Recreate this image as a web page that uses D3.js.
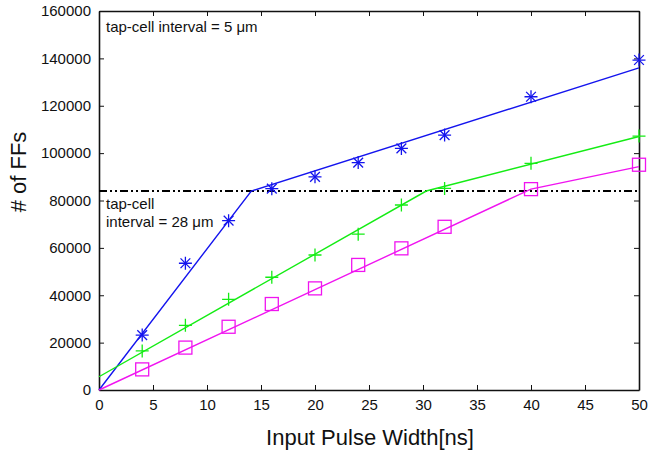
<!DOCTYPE html>
<html>
<head>
<meta charset="utf-8">
<script src="https://cdn.jsdelivr.net/npm/d3@7"></script>
<style>
  body { margin: 0; background: #fff; }
  svg text { font-family: "Liberation Sans", Arial, sans-serif; fill: #111; }
</style>
</head>
<body>
<svg id="chart" width="650" height="454"></svg>
<script>
// measured points (input pulse width vs # of FFs)
const pulseWidths = [4, 8, 12, 16, 20, 24, 28, 32, 40, 50];
const ffs5um  = [23200, 53500, 71500, 85000, 90000, 96000, 102000, 107600, 123800, 139300];
const ffsMid  = [16500, 27300, 38300, 47600, 57000, 65800, 78100, 85100, 95700, 107200];
const ffs28um = [8700, 17900, 26700, 36300, 42900, 52800, 59800, 68900, 84800, 95100];

// fitted lines (breakpoints)
const fit5umX  = [0, 14.1, 50];
const fit5umY  = [0, 84000, 136000];
const fitMidX  = [0, 30.3, 50];
const fitMidY  = [5600, 84000, 107000];
const fit28umX = [0, 40, 50];
const fit28umY = [0, 84800, 94300];

const limitFF = 84000;
const xTicks = [0, 5, 10, 15, 20, 25, 30, 35, 40, 45, 50];
const yTicks = [0, 20000, 40000, 60000, 80000, 100000, 120000, 140000, 160000];

const margin = { top: 11, right: 11, bottom: 64, left: 99 };
const width = 650 - margin.left - margin.right;
const height = 454 - margin.top - margin.bottom;

const svg = d3.select('#chart');
const g = svg.append('g').attr('transform', `translate(${margin.left},${margin.top})`);

const x = d3.scaleLinear().domain([0, 50]).range([0, width]);
const y = d3.scaleLinear().domain([0, 160000]).range([height, 0]);

// axes with inward ticks, mirrored on top/right
g.append('g')
  .attr('transform', `translate(0,${height})`)
  .call(d3.axisBottom(x).tickValues(xTicks).tickSizeInner(-5).tickSizeOuter(0).tickPadding(9));
g.append('g')
  .call(d3.axisLeft(y).tickValues(yTicks).tickFormat(d3.format('d')).tickSizeInner(-5).tickSizeOuter(0).tickPadding(8));
g.append('g')
  .call(d3.axisTop(x).tickValues(xTicks).tickSizeInner(-5).tickSizeOuter(0).tickFormat(''));
g.append('g')
  .attr('transform', `translate(${width},0)`)
  .call(d3.axisRight(y).tickValues(yTicks).tickSizeInner(-5).tickSizeOuter(0).tickFormat(''));

g.selectAll('.domain').attr('stroke', '#111').attr('stroke-width', 1.6);
g.selectAll('.tick line').attr('stroke', '#111').attr('stroke-width', 1);
g.selectAll('.tick text').style('font-size', '15px').attr('fill', '#111');

// limit line
g.append('line')
  .attr('x1', x(0)).attr('x2', x(50))
  .attr('y1', y(limitFF)).attr('y2', y(limitFF))
  .attr('stroke', '#000')
  .attr('stroke-width', 2)
  .attr('stroke-dasharray', '8,3,2,3,2,3');

const line = d3.line().x(d => x(d[0])).y(d => y(d[1]));

const series = [
  { fx: fit5umX, fy: fit5umY, pts: ffs5um, color: '#1414ee', marker: 'star' },
  { fx: fitMidX, fy: fitMidY, pts: ffsMid, color: '#14ec14', marker: 'plus' },
  { fx: fit28umX, fy: fit28umY, pts: ffs28um, color: '#f014f0', marker: 'square' }
];

series.forEach(s => {
  g.append('path')
    .datum(s.fx.map((v, i) => [v, s.fy[i]]))
    .attr('fill', 'none')
    .attr('stroke', s.color)
    .attr('stroke-width', 1.4)
    .attr('d', line);

  const m = g.append('g').selectAll('g')
    .data(pulseWidths.map((v, i) => [v, s.pts[i]]))
    .enter()
    .append('g')
    .attr('transform', d => `translate(${x(d[0])},${y(d[1])})`)
    .attr('stroke', s.color)
    .attr('stroke-width', 1.3)
    .attr('fill', 'none');

  const r = 6.5;
  if (s.marker === 'square') {
    m.append('rect').attr('x', -r).attr('y', -r).attr('width', 2 * r).attr('height', 2 * r);
  } else {
    m.append('path').attr('d', `M${-r},0H${r}M0,${-r}V${r}`);
    if (s.marker === 'star') {
      const k = r * 0.75;
      m.append('path').attr('d', `M${-k},${-k}L${k},${k}M${-k},${k}L${k},${-k}`);
    }
  }
});

// annotations
g.append('text').attr('x', 7).attr('y', 21).style('font-size', '15px').text('tap-cell interval = 5 μm');
g.append('text').attr('x', 7).attr('y', 198).style('font-size', '15px').text('tap-cell');
g.append('text').attr('x', 7).attr('y', 216).style('font-size', '15px').text('interval = 28 μm');

// axis titles
svg.append('text')
  .attr('x', 370)
  .attr('y', 445)
  .attr('text-anchor', 'middle')
  .style('font-size', '22px')
  .text('Input Pulse Width[ns]');
svg.append('text')
  .attr('transform', `translate(26,172) rotate(-90)`)
  .attr('text-anchor', 'middle')
  .style('font-size', '22px')
  .text('# of FFs');
</script>
</body>
</html>
